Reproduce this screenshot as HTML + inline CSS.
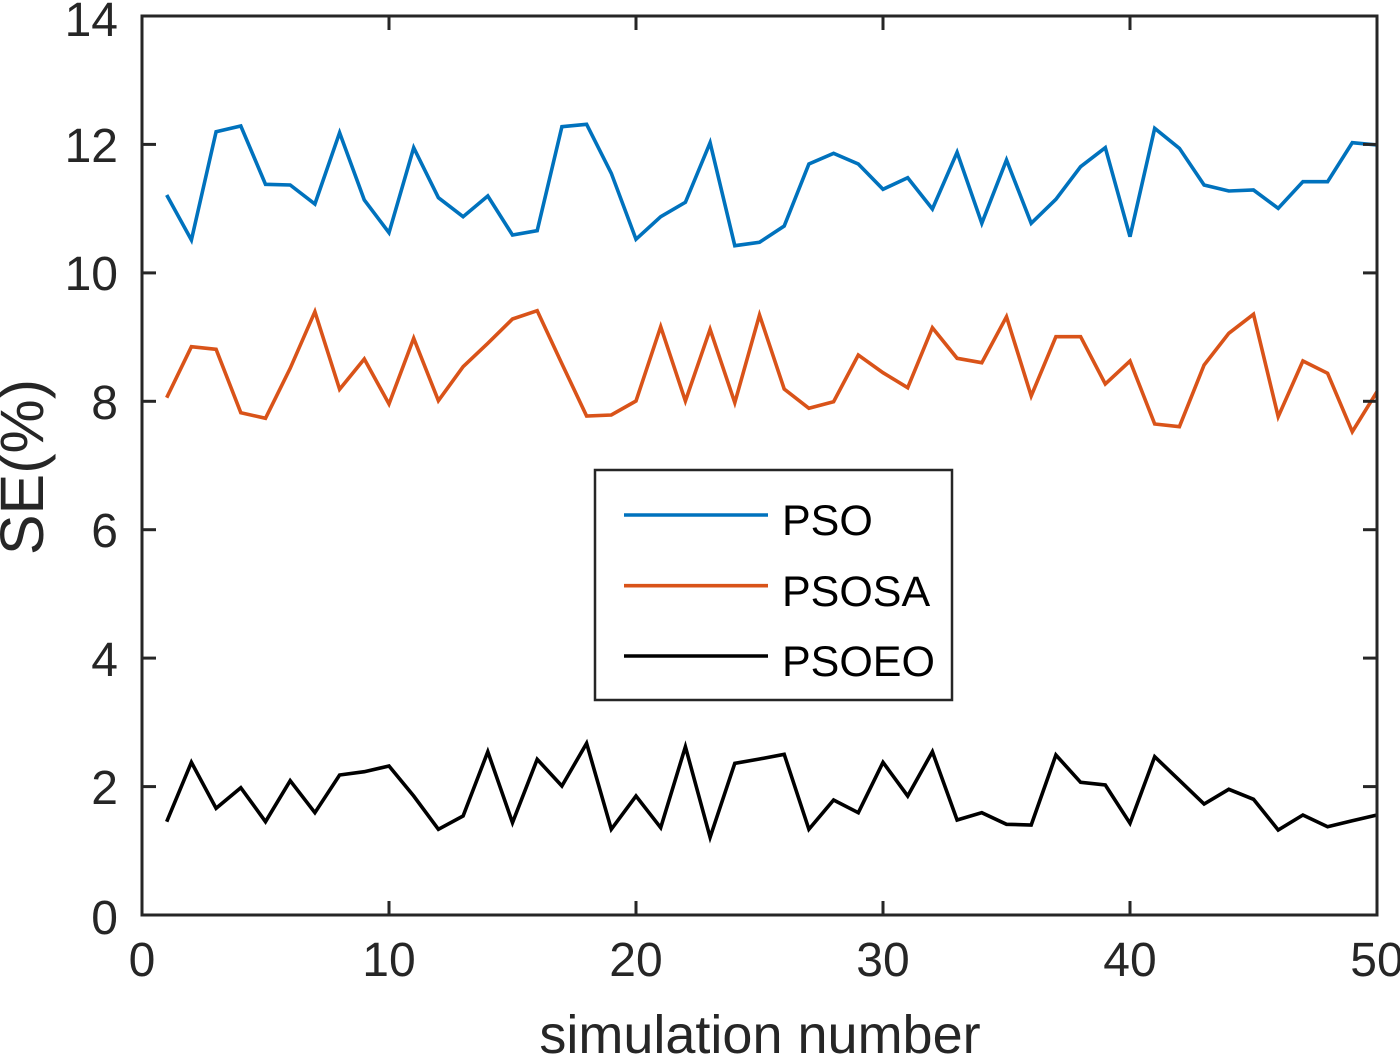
<!DOCTYPE html>
<html><head><meta charset="utf-8"><style>
html,body{margin:0;padding:0;background:#fff;}
svg{display:block;}
text{font-family:"Liberation Sans",Arial,sans-serif;fill:#262626;}
</style></head><body>
<svg width="1400" height="1059" viewBox="0 0 1400 1059" xmlns="http://www.w3.org/2000/svg">
<rect width="1400" height="1059" fill="#fff"/>
<!-- series -->
<polyline fill="none" stroke="#0072BD" stroke-width="3.6" stroke-linejoin="miter" points="166.7,195 191.4,240 216.1,131.7 240.8,126 265.5,184.3 290.2,185 314.9,204 339.6,132.7 364.3,200 389,232.7 413.7,147.7 438.4,197.7 463.1,216.7 487.8,196 512.5,235 537.2,230.7 561.9,126.7 586.6,124.3 611.3,173.3 636,239.3 660.7,216.7 685.4,202.3 710.1,142.7 734.8,245.7 759.5,242.3 784.2,226 808.9,164 833.6,153.3 858.3,164 883,189.3 907.7,177.7 932.4,209 957.1,152.3 981.8,223.3 1006.5,160 1031.2,223.3 1055.9,199.3 1080.6,166.7 1105.3,147.7 1130,236.7 1154.7,128.3 1179.4,148.3 1204.1,185 1228.8,191 1253.5,190 1278.2,208.3 1302.9,181.7 1327.6,181.7 1352.3,142.7 1377,145"/>
<polyline fill="none" stroke="#D95319" stroke-width="3.6" stroke-linejoin="miter" points="166.7,397.7 191.4,346.7 216.1,349.3 240.8,412.7 265.5,418.3 290.2,368.3 314.9,311.7 339.6,389.3 364.3,359 389,404 413.7,338.3 438.4,400.7 463.1,366.7 487.8,343.3 512.5,319 537.2,310.7 561.9,363.7 586.6,416 611.3,415 636,401 660.7,326.7 685.4,401 710.1,329.3 734.8,402.7 759.5,315 784.2,389 808.9,408.3 833.6,401.7 858.3,355 883,372.7 907.7,387.7 932.4,327.7 957.1,358.3 981.8,362.7 1006.5,316.7 1031.2,396 1055.9,336.7 1080.6,336.7 1105.3,384 1130,361 1154.7,424 1179.4,426.7 1204.1,365 1228.8,333.3 1253.5,314.3 1278.2,416.7 1302.9,361 1327.6,373.3 1352.3,431.7 1377,391.7"/>
<polyline fill="none" stroke="#000" stroke-width="3.6" stroke-linejoin="miter" points="166.7,821.7 191.4,762.3 216.1,808.3 240.8,787.7 265.5,821.7 290.2,780.7 314.9,812.7 339.6,775 364.3,771.7 389,766 413.7,796 438.4,829.3 463.1,816 487.8,751.7 512.5,822.7 537.2,759.3 561.9,786 586.6,743.3 611.3,829.3 636,796 660.7,827.7 685.4,746.7 710.1,837.3 734.8,763.3 759.5,759 784.2,754.3 808.9,829.3 833.6,800 858.3,812.7 883,762.3 907.7,796 932.4,751.7 957.1,820 981.8,812.7 1006.5,824.3 1031.2,825 1055.9,755 1080.6,782.3 1105.3,785 1130,823.3 1154.7,756.7 1179.4,780.3 1204.1,804 1228.8,789.3 1253.5,799.3 1278.2,830 1302.9,815 1327.6,826.7 1352.3,820.7 1377,815"/>
<!-- axes box -->
<rect x="142" y="16" width="1235" height="899" fill="none" stroke="#262626" stroke-width="3"/>
<!-- ticks -->
<g stroke="#262626" stroke-width="3">
<line x1="142" y1="786.6" x2="156" y2="786.6"/><line x1="1377" y1="786.6" x2="1363" y2="786.6"/>
<line x1="142" y1="658.1" x2="156" y2="658.1"/><line x1="1377" y1="658.1" x2="1363" y2="658.1"/>
<line x1="142" y1="529.7" x2="156" y2="529.7"/><line x1="1377" y1="529.7" x2="1363" y2="529.7"/>
<line x1="142" y1="401.3" x2="156" y2="401.3"/><line x1="1377" y1="401.3" x2="1363" y2="401.3"/>
<line x1="142" y1="272.9" x2="156" y2="272.9"/><line x1="1377" y1="272.9" x2="1363" y2="272.9"/>
<line x1="142" y1="144.4" x2="156" y2="144.4"/><line x1="1377" y1="144.4" x2="1363" y2="144.4"/>
<line x1="389" y1="915" x2="389" y2="901"/><line x1="389" y1="16" x2="389" y2="30"/>
<line x1="636" y1="915" x2="636" y2="901"/><line x1="636" y1="16" x2="636" y2="30"/>
<line x1="883" y1="915" x2="883" y2="901"/><line x1="883" y1="16" x2="883" y2="30"/>
<line x1="1130" y1="915" x2="1130" y2="901"/><line x1="1130" y1="16" x2="1130" y2="30"/>
</g>
<!-- y tick labels -->
<g font-size="48" text-anchor="end">
<text x="118" y="934">0</text>
<text x="118" y="804">2</text>
<text x="118" y="676">4</text>
<text x="118" y="547">6</text>
<text x="118" y="419">8</text>
<text x="118" y="290">10</text>
<text x="118" y="162">12</text>
<text x="118" y="36">14</text>
</g>
<!-- x tick labels -->
<g font-size="48" text-anchor="middle">
<text x="142" y="976">0</text>
<text x="389" y="976">10</text>
<text x="636" y="976">20</text>
<text x="883" y="976">30</text>
<text x="1130" y="976">40</text>
<text x="1377" y="976">50</text>
</g>
<!-- axis labels -->
<text x="760" y="1053" font-size="54" text-anchor="middle">simulation number</text>
<text transform="translate(43,467) rotate(-90)" font-size="61" text-anchor="middle">SE(%)</text>
<!-- legend -->
<rect x="595" y="470" width="357" height="230" fill="#fff" stroke="#262626" stroke-width="2.5"/>
<line x1="624" y1="515" x2="768" y2="515" stroke="#0072BD" stroke-width="3.6"/>
<line x1="624" y1="585.7" x2="768" y2="585.7" stroke="#D95319" stroke-width="3.6"/>
<line x1="624" y1="656" x2="768" y2="656" stroke="#000" stroke-width="3.6"/>
<g font-size="43">
<text x="782" y="535" style="fill:#000">PSO</text>
<text x="782" y="606" style="fill:#000">PSOSA</text>
<text x="782" y="676" style="fill:#000">PSOEO</text>
</g>
</svg>
</body></html>
